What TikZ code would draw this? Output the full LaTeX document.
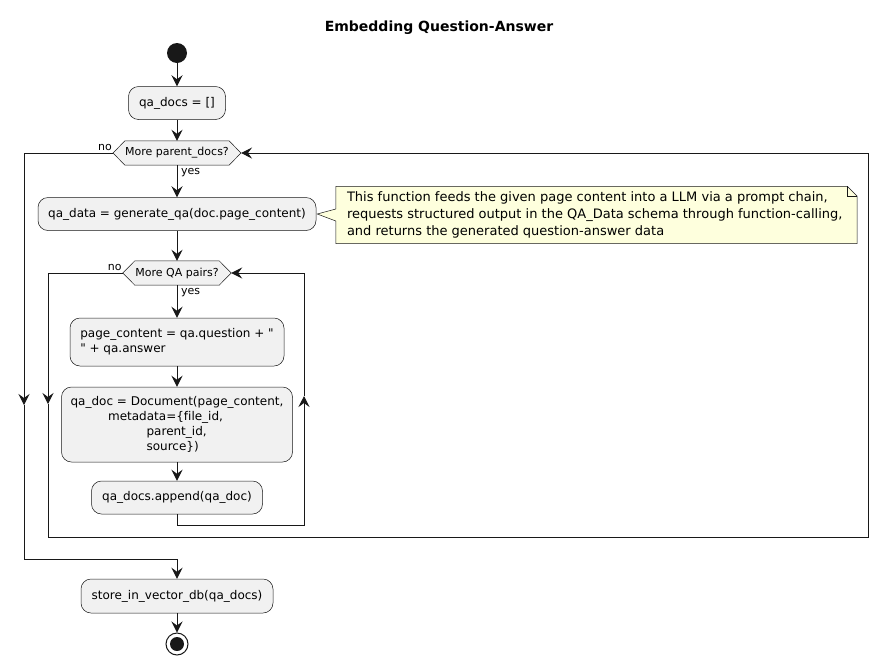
\documentclass[tikz,border=0pt]{standalone}
\usepackage{fontspec}
\setmainfont{DejaVu Sans}[Ligatures=NoCommon]
\usetikzlibrary{arrows.meta,calc}
\definecolor{boxfill}{HTML}{F1F1F1}
\definecolor{linecol}{HTML}{181818}
\definecolor{notefill}{HTML}{FEFFDD}
\begin{document}
\begin{tikzpicture}[x=1pt,y=-1pt,
  act/.style={draw=linecol, line width=0.5pt, fill=boxfill, rounded corners=10pt, inner sep=0pt,
    font=\fontsize{12}{15}\selectfont, align=center},
  hexlab/.style={inner sep=0pt, font=\fontsize{11}{13}\selectfont, minimum height=24pt},
  hexshape/.style={draw=linecol, line width=0.5pt, fill=boxfill},
  edge/.style={draw=linecol, line width=1pt},
  arr/.style={edge, -{Stealth[length=11pt,width=11pt,inset=4pt]}},
  lab/.style={font=\fontsize{11}{13}\selectfont, inner sep=0pt},
  notest/.style={draw=linecol, line width=0.5pt, fill=notefill},
]
\useasboundingbox (0,0) rectangle (879,665);
\fill[white] (0,0) rectangle (879,665);

\node[font=\bfseries\fontsize{14}{17}\selectfont] (title) at (439,27.5) {Embedding Question-Answer};

% start
\node[fill=linecol, circle, inner sep=0pt, minimum size=20pt] (start) at (177,53) {};
\node[act, minimum width=97pt, minimum height=33pt] (b1) at (177,103) {qa\_docs = []};

% hexagon 1
\node[hexlab, minimum width=103pt] (h1) at (177,153) {More parent\_docs?};
\coordinate (h1l) at ($(h1.west)+(-12,0)$);
\coordinate (h1r) at ($(h1.east)+(12,0)$);
\draw[hexshape] (h1.north west) -- (h1.north east) -- (h1r) -- (h1.south east) -- (h1.south west) -- (h1l) -- cycle;
\node[hexlab, minimum width=103pt] at (h1) {More parent\_docs?};

\node[act, minimum width=278pt, minimum height=33pt] (b2) at (177,214) {qa\_data = generate\_qa(doc.page\_content)};

% note
\node[inner sep=0pt, minimum width=521pt, minimum height=57pt] (note) at (596.5,215) {};
\draw[notest] (note.north west) -- ($(note.north east)+(-10,0)$) -- ($(note.north east)+(0,10)$)
  -- (note.south east) -- (note.south west) -- ($(note.west)+(0,6)$) -- ($(b2.east)+(1,0)$)
  -- ($(note.west)+(0,-6)$) -- cycle;
\draw[linecol, line width=0.5pt] ($(note.north east)+(-10,0)$) -- ($(note.north east)+(-10,10)$) -- ($(note.north east)+(0,10)$);
\node[anchor=west, inner sep=0pt, align=left, font=\fontsize{13}{17}\selectfont] (notetext) at ($(note.west)+(11,0)$)
  {This function feeds the given page content into a LLM via a prompt chain,\\
   requests structured output in the QA\_Data schema through function-calling,\\
   and returns the generated question-answer data};

% hexagon 2
\node[hexlab, minimum width=84pt] (h2) at (177,273) {More QA pairs?};
\coordinate (h2l) at ($(h2.west)+(-12,0)$);
\coordinate (h2r) at ($(h2.east)+(12,0)$);
\draw[hexshape] (h2.north west) -- (h2.north east) -- (h2r) -- (h2.south east) -- (h2.south west) -- (h2l) -- cycle;
\node[hexlab, minimum width=84pt] at (h2) {More QA pairs?};

\node[act, minimum width=214pt, minimum height=48pt, align=left] (b3) at (177,342)
  {page\_content = qa.question + \textquotedbl\\\textquotedbl{} + qa.answer};
\node[act, minimum width=231pt, minimum height=75pt, align=left] (b4) at (177,424.5)
  {qa\_doc = Document(page\_content,\\\hspace*{37.5pt}metadata=\{file\_id,\\\hspace*{76pt}parent\_id,\\\hspace*{76pt}source\})};
\node[act, minimum width=171pt, minimum height=33pt] (b5) at (177,497.5) {qa\_docs.append(qa\_doc)};
\node[act, minimum width=192pt, minimum height=34pt] (b6) at (177,596) {store\_in\_vector\_db(qa\_docs)};

% end
\node[draw=linecol, line width=1pt, fill=white, circle, inner sep=0pt, minimum size=22pt] (stop) at (177,644) {};
\node[fill=linecol, circle, inner sep=0pt, minimum size=14pt] (stopin) at (stop) {};

% coordinates for routing
\coordinate (o1) at (24,153);
\coordinate (o1m) at (24,405);
\coordinate (o2) at (24,559);
\coordinate (i1) at (48,273);
\coordinate (i1m) at (48,404);
\coordinate (i2) at (48,537);
\coordinate (i3) at (868,537);
\coordinate (i4) at (868,153);
\coordinate (r1) at (304,525);
\coordinate (r1m) at (304,396);
\coordinate (r2) at (304,273);

% main flow
\draw[arr] (start) -- (b1);
\draw[arr] (b1) -- (h1.north);
\draw[arr] (h1.south) -- (b2.north);
\draw[arr] (b2) -- (h2.north);
\draw[arr] (h2.south) -- (b3.north);
\draw[arr] (b3) -- (b4);
\draw[arr] (b4) -- (b5);
\draw[arr] (b6) -- (stop);

% outer exit
\draw[arr] (h1l) -- (o1) -- (o1m);
\draw[arr] (o1m) -- (o2) -| (b6.north);
% inner exit -> back to outer loop
\draw[arr] (h2l) -- (i1) -- (i1m);
\draw[arr] (i1m) -- (i2) -- (i3) -- (i4) -- (h1r);
% inner loop back
\draw[arr] (b5.south) |- (r1) -- (r1m);
\draw[arr] (r1m) -- (r2) -- (h2r);

% labels
\node[lab, anchor=south east] (no1) at ($(h1l)+(-1,-2)$) {no};
\node[lab, anchor=north west] (yes1) at ($(h1.south)+(4,3)$) {yes};
\node[lab, anchor=south east] (no2) at ($(h2l)+(-1,-2)$) {no};
\node[lab, anchor=north west] (yes2) at ($(h2.south)+(4,3)$) {yes};
\end{tikzpicture}
\end{document}
